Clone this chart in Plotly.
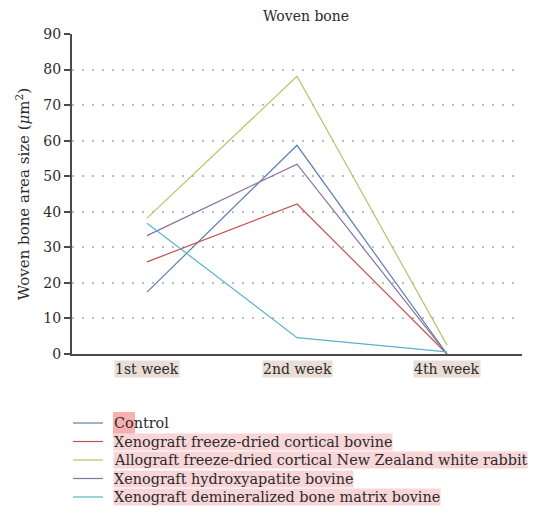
# Woven bone area size per group over time

import plotly.graph_objects as go

# data
weeks = ["1st week", "2nd week", "4th week"]
groups = [
    "Control",
    "Xenograft freeze-dried cortical bovine",
    "Allograft freeze-dried cortical New Zealand white rabbit",
    "Xenograft hydroxyapatite bovine",
    "Xenograft demineralized bone matrix bovine",
]
control = [17.4, 58.7, 0.0]
xeno_fd = [25.9, 42.2, 0.0]
allo_fd = [38.2, 78.1, 2.5]
xeno_ha = [33.3, 53.4, 0.0]
xeno_dbm = [36.8, 4.6, 0.6]
y_ticks = [0, 10, 20, 30, 40, 50, 60, 70, 80, 90]

series = [control, xeno_fd, allo_fd, xeno_ha, xeno_dbm]
colors = ["#5b7fb0", "#c0504d", "#b5c46a", "#86709f", "#58b4c9"]

FONT = "DejaVu Serif"
TEXT = "#2b2b2b"

# the page puts the figure 8px in from the corner (body margin)
OFF = 8
W, H = 541 - OFF, 531 - OFF
# plot area in page pixels
PX0, PX1, PY0, PY1 = 72, 522, 34, 354
plot_w = PX1 - PX0
plot_h = PY1 - PY0


def px_x(x):
    return (x - PX0) / plot_w


def px_y(y):
    return (PY1 - y) / plot_h


fig = go.Figure()

for name, vals, color in zip(groups, series, colors):
    fig.add_trace(
        go.Scatter(
            x=weeks,
            y=vals,
            mode="lines",
            name=name,
            line=dict(color=color, width=1.2),
            showlegend=False,
        )
    )

# x tick labels with their beige highlight
for w in weeks:
    fig.add_annotation(
        x=w,
        y=0,
        xref="x",
        yref="paper",
        yanchor="top",
        yshift=-6,
        text=w,
        showarrow=False,
        bgcolor="#e9ddd5",
        borderpad=0,
        font=dict(family=FONT, size=14, color=TEXT),
    )

# legend built by hand so the rows can sit tight like the reference
row_gap = 18.5
first_row = 423
for i, (name, color) in enumerate(zip(groups, colors)):
    yp = px_y(first_row + i * row_gap)
    fig.add_shape(
        type="line",
        xref="paper",
        yref="paper",
        x0=px_x(73),
        x1=px_x(103),
        y0=yp,
        y1=yp,
        line=dict(color=color, width=1.2),
    )
    fig.add_annotation(
        x=px_x(113),
        y=yp,
        xref="paper",
        yref="paper",
        xanchor="left",
        yanchor="middle",
        text=name,
        showarrow=False,
        bgcolor="rgba(0,0,0,0)" if i == 0 else "#f8d6d8",
        borderpad=0,
        font=dict(family=FONT, size=14.4, color=TEXT),
    )

# the red marker box over "Control"
fig.add_shape(
    type="rect",
    xref="paper",
    yref="paper",
    x0=px_x(113),
    x1=px_x(135),
    y0=px_y(438),
    y1=px_y(412),
    fillcolor="rgba(240,110,110,0.55)",
    line=dict(width=0),
    layer="below",
)

fig.update_layout(
    width=W,
    height=H,
    margin=dict(l=PX0 - OFF, r=W - (PX1 - OFF), t=PY0 - OFF, b=H - (PY1 - OFF)),
    paper_bgcolor="white",
    plot_bgcolor="white",
    font=dict(family=FONT, size=14, color=TEXT),
    title=dict(
        text="Woven bone",
        x=(306 - OFF) / W,
        xanchor="center",
        y=1,
        yanchor="top",
        pad=dict(t=3),
        font=dict(family=FONT, size=14, color=TEXT),
    ),
    xaxis=dict(
        type="category",
        range=[-0.5, 2.5],
        showticklabels=False,
        showgrid=False,
        showline=True,
        linecolor="#4a4a4a",
        linewidth=2,
        ticks="",
        zeroline=False,
    ),
    yaxis=dict(
        range=[0, 90],
        tickvals=y_ticks,
        showline=True,
        linecolor="#4a4a4a",
        linewidth=2,
        ticks="outside",
        ticklen=6,
        tickcolor="#4a4a4a",
        tickwidth=1.5,
        showgrid=True,
        gridcolor="#bdbdbd",
        griddash="2px,8px",
        gridwidth=1.5,
        zeroline=False,
        tickfont=dict(family=FONT, size=14, color=TEXT),
        title=dict(
            text="Woven bone area size (<i>μ</i>m<sup>2</sup>)",
            font=dict(family=FONT, size=15, color=TEXT),
            standoff=10,
        ),
    ),
)

fig.write_html("out.html")
